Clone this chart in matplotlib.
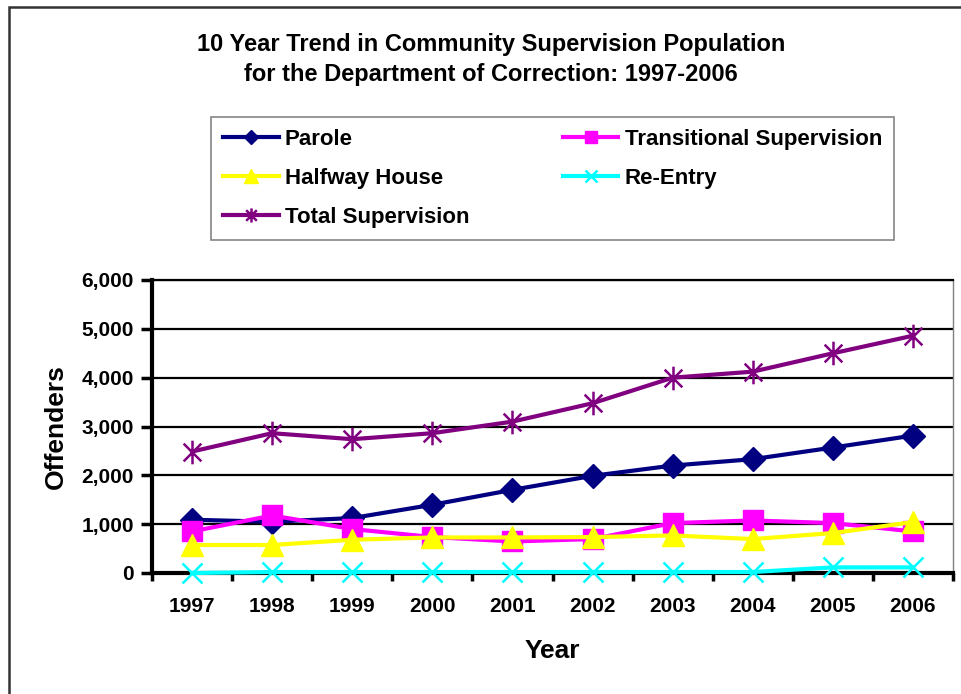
import matplotlib
matplotlib.use("Agg")
import matplotlib.pyplot as plt
from matplotlib.path import Path
from matplotlib.patches import Rectangle
from matplotlib.ticker import FuncFormatter, MultipleLocator, FixedLocator

plt.rcParams['font.family'] = ['Liberation Sans', 'DejaVu Sans']
plt.rcParams['font.weight'] = 'bold'

years = ["1997", "1998", "1999", "2000", "2001", "2002", "2003", "2004", "2005", "2006"]
parole = [1090, 1050, 1125, 1397, 1703, 1990, 2200, 2331, 2569, 2814]
transitional = [851, 1178, 900, 736, 646, 695, 1022, 1076, 1022, 851]
halfway = [573, 573, 681, 728, 728, 736, 769, 695, 818, 1043]
reentry = [0, 20, 20, 20, 20, 20, 20, 20, 115, 115]
total = [2487, 2863, 2740, 2863, 3100, 3476, 4000, 4123, 4499, 4859]

# asterisk marker: vertical bar plus an X
star_path = Path(
    [(0, -1), (0, 1), (-0.75, -0.75), (0.75, 0.75), (-0.75, 0.75), (0.75, -0.75)],
    [Path.MOVETO, Path.LINETO, Path.MOVETO, Path.LINETO, Path.MOVETO, Path.LINETO],
)

fig = plt.figure(figsize=(9.61, 6.94), dpi=100)
fig.patches.append(Rectangle((9 / 961, -0.1), 1.2, (1 - 7.5 / 694) + 0.1,
                             transform=fig.transFigure, fill=False,
                             edgecolor='#333333', linewidth=1.8))

ax = fig.add_axes([152 / 961, 1 - 573 / 694, (953 - 152) / 961, (573 - 280) / 694])
x = list(range(len(years)))

h_parole, = ax.plot(x, parole, color='#000080', lw=3, marker='D', ms=12,
                    mfc='#000080', mec='#000080', label='Parole', zorder=3)
h_trans, = ax.plot(x, transitional, color='#FF00FF', lw=3, marker='s', ms=15,
                   mfc='#FF00FF', mec='#FF00FF', label='Transitional Supervision', zorder=4)
h_half, = ax.plot(x, halfway, color='#FFFF00', lw=3, marker='^', ms=16,
                  mfc='#FFFF00', mec='#FFFF00', label='Halfway House', zorder=5)
h_re, = ax.plot(x, reentry, color='#00FFFF', lw=3, marker='x', ms=15, mew=1.8,
                mec='#00FFFF', label='Re-Entry', zorder=6, clip_on=False)
h_tot, = ax.plot(x, total, color='#800080', lw=3, marker=star_path, ms=17, mew=1.8,
                 mfc='none', mec='#800080', label='Total Supervision', zorder=7)

ax.set_xlim(-0.5, len(years) - 0.5)
ax.set_ylim(0, 6000)
ax.yaxis.set_major_locator(MultipleLocator(1000))
ax.yaxis.set_major_formatter(FuncFormatter(lambda v, p: f"{int(v):,}"))
ax.grid(axis='y', color='black', lw=1.6, zorder=1)
ax.set_axisbelow(True)

ax.set_xticks(x)
ax.set_xticklabels(years)
ax.xaxis.set_minor_locator(FixedLocator([i + 0.5 for i in range(-1, len(years))]))
ax.tick_params(axis='x', which='major', length=0, pad=17, labelsize=15)
ax.tick_params(axis='x', which='minor', length=6, width=2.5, direction='out')
ax.tick_params(axis='y', which='major', length=8, width=2.5, direction='out',
               pad=5, labelsize=15)

for s in ('left', 'bottom'):
    ax.spines[s].set_linewidth(3)
    ax.spines[s].set_color('black')
ax.spines['top'].set_linewidth(1.6)
ax.spines['top'].set_color('black')
ax.spines['right'].set_linewidth(1)
ax.spines['right'].set_color('#808080')

ax.set_xlabel('Year', fontsize=19, fontweight='bold', labelpad=17)
ax.set_ylabel('Offenders', fontsize=19, fontweight='bold', labelpad=10)

fig.text(491 / 961, 1 - 44 / 694, '10 Year Trend in Community Supervision Population',
         ha='center', va='center', fontsize=17, fontweight='bold')
fig.text(491 / 961, 1 - 74 / 694, 'for the Department of Correction: 1997-2006',
         ha='center', va='center', fontsize=17, fontweight='bold')

handles = [h_parole, h_half, h_tot, h_trans, h_re]
leg = fig.legend(handles=handles, labels=[h.get_label() for h in handles], ncol=2,
                 loc='upper left', bbox_to_anchor=(211 / 961, 1 - 117 / 694),
                 borderaxespad=0, fontsize=16, frameon=True, fancybox=False,
                 edgecolor='#666666', handlelength=2.5, handletextpad=0.28,
                 columnspacing=4.2, labelspacing=0.8, borderpad=0.55,
                 markerscale=0.6)
leg.get_frame().set_linewidth(1.2)

fig.savefig('out.png', dpi=100)
